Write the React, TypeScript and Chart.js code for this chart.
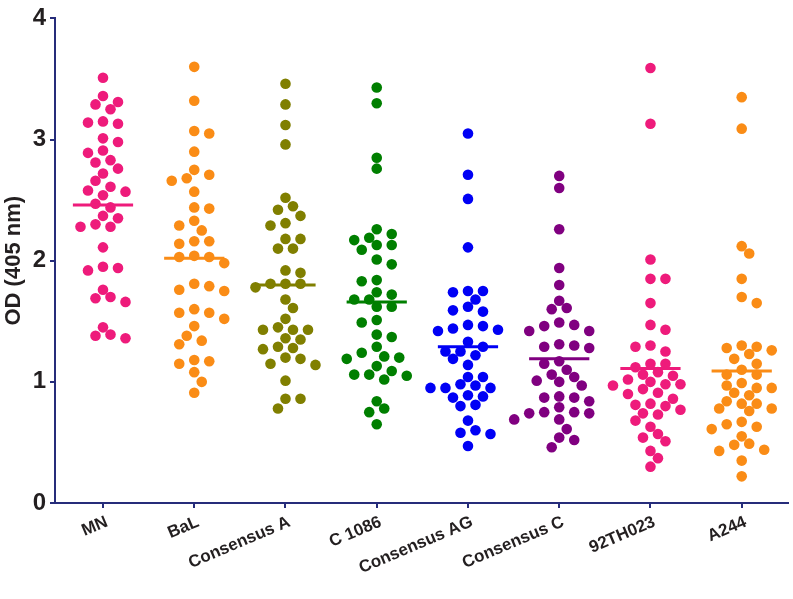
import React, { useEffect, useRef } from "react";
import { Chart, registerables } from "chart.js";
Chart.register(...registerables);

const categories = ["MN", "BaL", "Consensus A", "C 1086", "Consensus AG", "Consensus C", "92TH023", "A244"];
const colors = ["#EE1B7B", "#FA8C16", "#807F00", "#007F00", "#0000F5", "#800080", "#EE1B7B", "#FA8C16"];
const yTicks = [0, 1, 2, 3, 4];

const mnValues = [3.51, 3.36, 3.31, 3.25, 3.29, 3.15, 3.14, 3.13, 3.01, 2.98, 2.91, 2.89, 2.83, 2.81, 2.76, 2.72, 2.66, 2.61, 2.58, 2.57, 2.54, 2.47, 2.44, 2.37, 2.35, 2.30, 2.28, 2.28, 2.11, 1.95, 1.92, 1.94, 1.76, 1.69, 1.66, 1.70, 1.45, 1.39, 1.36, 1.38];
const balValues = [3.60, 3.32, 3.07, 3.05, 2.90, 2.75, 2.68, 2.71, 2.66, 2.57, 2.44, 2.43, 2.33, 2.29, 2.25, 2.16, 2.16, 2.14, 2.03, 1.98, 2.03, 2.04, 1.81, 1.76, 1.75, 1.79, 1.57, 1.60, 1.52, 1.57, 1.46, 1.38, 1.31, 1.34, 1.18, 1.15, 1.17, 1.08, 1.00, 0.91];
const consAValues = [3.46, 3.29, 3.12, 2.96, 2.52, 2.45, 2.42, 2.37, 2.31, 2.29, 2.18, 2.18, 2.10, 2.10, 1.90, 1.92, 1.81, 1.81, 1.81, 1.78, 1.68, 1.61, 1.52, 1.43, 1.43, 1.43, 1.45, 1.35, 1.36, 1.28, 1.27, 1.29, 1.19, 1.14, 1.15, 1.20, 1.01, 0.86, 0.86, 0.78];
const c1086Values = [3.43, 3.30, 2.85, 2.76, 2.26, 2.22, 2.17, 2.19, 2.13, 2.09, 2.13, 2.01, 1.97, 1.84, 1.83, 1.72, 1.74, 1.68, 1.68, 1.62, 1.62, 1.51, 1.49, 1.37, 1.39, 1.24, 1.20, 1.19, 1.21, 1.29, 1.13, 1.09, 1.06, 1.02, 1.05, 1.06, 0.84, 0.75, 0.78, 0.65];
const consAGValues = [3.05, 2.71, 2.51, 2.11, 1.75, 1.74, 1.75, 1.68, 1.62, 1.59, 1.58, 1.47, 1.44, 1.42, 1.43, 1.46, 1.33, 1.25, 1.29, 1.25, 1.22, 1.19, 1.14, 1.04, 1.04, 0.97, 0.95, 0.95, 0.95, 0.98, 0.87, 0.89, 0.88, 0.80, 0.81, 0.68, 0.58, 0.60, 0.57, 0.47];
const consCValues = [2.70, 2.60, 2.26, 1.94, 1.80, 1.67, 1.60, 1.61, 1.47, 1.42, 1.42, 1.46, 1.49, 1.30, 1.28, 1.29, 1.31, 1.17, 1.15, 1.10, 1.06, 1.01, 0.97, 1.04, 1.00, 0.87, 0.88, 0.87, 0.84, 0.79, 0.75, 0.74, 0.74, 0.75, 0.69, 0.69, 0.61, 0.54, 0.52, 0.46];
const th023Values = [3.59, 3.13, 2.01, 1.85, 1.85, 1.65, 1.47, 1.43, 1.29, 1.30, 1.25, 1.15, 1.15, 1.12, 1.08, 1.06, 1.05, 1.02, 0.98, 1.00, 0.97, 0.98, 0.94, 0.91, 0.90, 0.86, 0.81, 0.82, 0.80, 0.77, 0.74, 0.73, 0.68, 0.63, 0.57, 0.54, 0.51, 0.43, 0.37, 0.30];
const a244Values = [3.35, 3.09, 2.12, 2.06, 1.85, 1.70, 1.65, 1.28, 1.30, 1.29, 1.26, 1.23, 1.19, 1.15, 1.10, 1.06, 1.06, 0.99, 0.97, 0.95, 0.95, 0.91, 0.89, 0.84, 0.82, 0.82, 0.78, 0.76, 0.78, 0.67, 0.63, 0.61, 0.65, 0.55, 0.49, 0.48, 0.44, 0.43, 0.35, 0.22];
const medians = [2.46, 2.02, 1.80, 1.66, 1.29, 1.19, 1.11, 1.09];

const groups = [mnValues, balValues, consAValues, c1086Values, consAGValues, consCValues, th023Values, a244Values];

const NAVY = "#262C7A";
const TEXT = "#231F20";
const FONT = "Arial, 'Liberation Sans', Helvetica, sans-serif";

// Greedy beeswarm on a half-spacing grid, keeping each neighbourhood balanced.
function swarm(pys: number[], minDist: number, step: number): number[] {
  const order = pys.map((_, i) => i).sort((a, b) => pys[a] - pys[b]);
  const placed: { x: number; y: number }[] = [];
  const out = new Array(pys.length).fill(0);
  for (const i of order) {
    const y = pys[i];
    let bal = 0;
    for (const p of placed) if (Math.abs(p.y - y) < 2.2 * minDist) bal += Math.sign(p.x);
    const pref = bal > 0 ? -1 : 1;
    let chosen = 0;
    for (let k = 0; k < 30; k++) {
      const cands = k === 0 ? [0] : [pref * k * step, -pref * k * step];
      let found: number | null = null;
      for (const c of cands) {
        if (placed.every((p) => (p.x - c) * (p.x - c) + (p.y - y) * (p.y - y) >= minDist * minDist)) {
          found = c;
          break;
        }
      }
      if (found !== null) {
        chosen = found;
        break;
      }
    }
    placed.push({ x: chosen, y });
    out[i] = chosen;
  }
  return out;
}

export default function App() {
  const ref = useRef<HTMLCanvasElement | null>(null);
  useEffect(() => {
    const canvas = ref.current!;
    const pointSets = groups.map((vals, gi) => ({
      label: categories[gi],
      data: vals.map((v) => ({ x: gi, y: v })),
      backgroundColor: colors[gi],
      borderWidth: 0,
      pointRadius: 5.3,
      pointHoverRadius: 5.3,
      order: 1,
    }));
    const medianSets = medians.map((m, gi) => ({
      label: categories[gi] + " median",
      data: [
        { x: gi - 0.33, y: m },
        { x: gi + 0.33, y: m },
      ],
      showLine: true,
      borderColor: colors[gi],
      borderWidth: 3,
      pointRadius: 0,
      order: 0,
    }));
    const chart = new Chart(canvas, {
      type: "scatter",
      data: { datasets: [...pointSets, ...medianSets] as any },
      options: {
        animation: false,
        responsive: false,
        devicePixelRatio: 1,
        layout: { padding: { top: 15, left: 0, right: 4, bottom: 0 } },
        plugins: { legend: { display: false }, tooltip: { enabled: false } },
        scales: {
          x: {
            type: "linear",
            min: -0.526,
            max: 7.504,
            afterBuildTicks: (s: any) => {
              s.ticks = categories.map((_, i) => ({ value: i }));
            },
            afterFit: (s: any) => {
              s.height = 96;
            },
            ticks: {
              autoSkip: false,
              minRotation: 23,
              maxRotation: 23,
              color: TEXT,
              padding: 4,
              labelOffset: 4,
              font: { family: FONT, size: 17, weight: "bold" },
              callback: (_v: any, i: number) => categories[i],
            },
            grid: { drawOnChartArea: false, drawTicks: true, tickLength: 5, color: NAVY, lineWidth: 2 },
            border: { color: NAVY, width: 2 },
          },
          y: {
            min: 0,
            max: 4,
            afterBuildTicks: (s: any) => {
              s.ticks = yTicks.map((v) => ({ value: v }));
            },
            afterFit: (s: any) => {
              s.width = 55;
            },
            ticks: {
              color: TEXT,
              padding: 4,
              font: { family: FONT, size: 24, weight: "bold" },
            },
            grid: { drawOnChartArea: false, drawTicks: true, tickLength: 5, color: NAVY, lineWidth: 2 },
            border: { color: NAVY, width: 2 },
            title: {
              display: true,
              text: "OD (405 nm)",
              color: TEXT,
              padding: { top: 1, bottom: 0 },
              font: { family: FONT, size: 22, weight: "bold" },
            },
          },
        },
      },
    });
    const ys = chart.scales.y;
    const xs = chart.scales.x;
    const pxPerUnit = xs.getPixelForValue(1) - xs.getPixelForValue(0);
    groups.forEach((vals, gi) => {
      const pys = vals.map((v) => ys.getPixelForValue(v));
      const offs = swarm(pys, 10, 7.5);
      (chart.data.datasets[gi] as any).data = vals.map((v, i) => ({ x: gi + offs[i] / pxPerUnit, y: v }));
    });
    chart.update();
    return () => chart.destroy();
  }, []);
  return (
    <div style={{ position: "absolute", left: 0, top: 0, width: 793, height: 599, background: "#fff" }}>
      <canvas ref={ref} width={793} height={599} style={{ width: 793, height: 599, display: "block" }} />
    </div>
  );
}
